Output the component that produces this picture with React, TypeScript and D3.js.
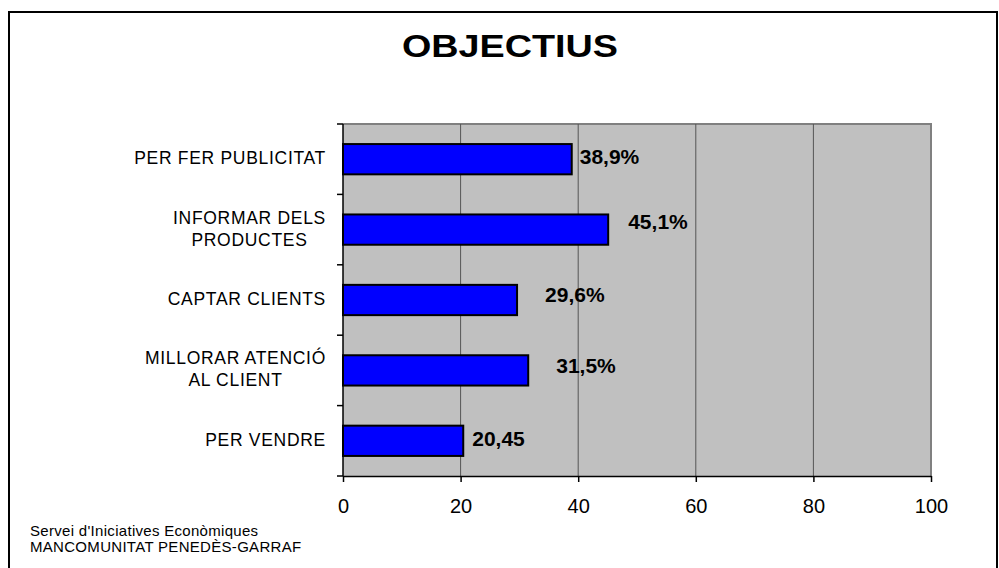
import React, { useRef, useEffect } from 'react';
import * as d3 from 'd3';

const categories = [
  'PER FER PUBLICITAT',
  'INFORMAR DELS\nPRODUCTES',
  'CAPTAR CLIENTS',
  'MILLORAR ATENCIÓ\nAL CLIENT',
  'PER VENDRE',
];
const values = [38.9, 45.1, 29.6, 31.5, 20.45];
const valueLabels = ['38,9%', '45,1%', '29,6%', '31,5%', '20,45'];
const xTicks = [0, 20, 40, 60, 80, 100];
const footerLines = ["Servei d'Iniciatives Econòmiques", 'MANCOMUNITAT PENEDÈS-GARRAF'];

// data labels were dragged around by hand in the original, so keep their nudges
const labelNudge = [
  { dx: 8, dy: 5 },
  { dx: 20, dy: -1 },
  { dx: 28, dy: 2 },
  { dx: 28, dy: 3 },
  { dx: 9, dy: 5 },
];

export default function App() {
  const ref = useRef<SVGSVGElement>(null);
  const width = 999;
  const height = 568;

  useEffect(() => {
    const svg = d3.select(ref.current);
    svg.selectAll('*').remove();

    const plot = { left: 343, right: 931, top: 124, bottom: 476 };
    const font = 'Arial, "Liberation Sans", sans-serif';

    const x = d3.scaleLinear().domain([0, 100]).range([plot.left, plot.right]);
    const y = d3.scaleBand().domain(categories).range([plot.top, plot.bottom]).padding(0);
    const barH = y.bandwidth() * 0.43;

    // outer frame
    svg.append('rect')
      .attr('x', 9).attr('y', 12)
      .attr('width', 988).attr('height', 620)
      .attr('fill', 'white')
      .attr('stroke', 'black').attr('stroke-width', 2);

    // title
    svg.append('text')
      .attr('x', 510).attr('y', 57)
      .attr('text-anchor', 'middle')
      .attr('font-family', font).attr('font-weight', 'bold').attr('font-size', 31)
      .attr('textLength', 216).attr('lengthAdjust', 'spacingAndGlyphs')
      .text('OBJECTIUS');

    // plot area
    svg.append('rect')
      .attr('x', plot.left).attr('y', plot.top)
      .attr('width', plot.right - plot.left).attr('height', plot.bottom - plot.top)
      .attr('fill', '#c0c0c0');

    svg.append('path')
      .attr('d', `M${plot.left},${plot.top}H${plot.right}V${plot.bottom}`)
      .attr('fill', 'none').attr('stroke', '#808080').attr('stroke-width', 2);

    svg.append('g')
      .selectAll('line')
      .data(xTicks.filter(t => t > 0 && t < 100))
      .enter()
      .append('line')
      .attr('x1', d => x(d)).attr('x2', d => x(d))
      .attr('y1', plot.top).attr('y2', plot.bottom)
      .attr('stroke', '#555').attr('stroke-width', 1);

    // bars
    svg.append('g')
      .selectAll('rect')
      .data(categories)
      .enter()
      .append('rect')
      .attr('x', x(0))
      .attr('y', d => y(d)! + (y.bandwidth() - barH) / 2)
      .attr('width', (_, i) => x(values[i]) - x(0))
      .attr('height', barH)
      .attr('fill', '#0000ff')
      .attr('stroke', 'black').attr('stroke-width', 2);

    // value labels
    svg.append('g')
      .selectAll('text')
      .data(categories)
      .enter()
      .append('text')
      .attr('x', (_, i) => x(values[i]) + labelNudge[i].dx)
      .attr('y', (d, i) => y(d)! + y.bandwidth() / 2 + labelNudge[i].dy)
      .attr('font-family', font).attr('font-weight', 'bold').attr('font-size', 21)
      .text((_, i) => valueLabels[i]);

    // y axis
    const yBounds = [...categories.map(c => y(c)!), plot.bottom];
    svg.append('line')
      .attr('x1', plot.left).attr('x2', plot.left)
      .attr('y1', plot.top).attr('y2', plot.bottom)
      .attr('stroke', 'black').attr('stroke-width', 1.5);
    svg.append('g')
      .selectAll('line')
      .data(yBounds)
      .enter()
      .append('line')
      .attr('x1', plot.left - 6).attr('x2', plot.left)
      .attr('y1', d => d).attr('y2', d => d)
      .attr('stroke', 'black').attr('stroke-width', 1.5);

    // category labels, multi-line ones centred within a right-aligned block
    const catG = svg.append('g')
      .attr('font-family', font).attr('font-size', 17.5)
      .attr('letter-spacing', 0.7).attr('fill', 'black');
    categories.forEach(c => {
      const lines = c.split('\n');
      const t = catG.append('text').attr('text-anchor', 'middle');
      const cy = y(c)! + y.bandwidth() / 2;
      lines.forEach((ln, j) => {
        t.append('tspan')
          .attr('y', cy + 5 + (j - (lines.length - 1) / 2) * 22)
          .text(ln);
      });
      const w = d3.max(t.selectAll<SVGTSpanElement, unknown>('tspan').nodes(), n => n.getComputedTextLength()) || 0;
      t.selectAll('tspan').attr('x', 326 - w / 2);
    });

    // x axis
    svg.append('g')
      .attr('transform', `translate(0,${plot.bottom})`)
      .call(d3.axisBottom(x).tickValues(xTicks).tickSize(6).tickSizeOuter(0).tickPadding(17))
      .call(g => g.select('.domain').attr('stroke', 'black').attr('stroke-width', 1.5))
      .call(g => g.selectAll('.tick line').attr('stroke', 'black').attr('stroke-width', 1.5))
      .call(g => g.selectAll('.tick text')
        .attr('font-family', font).attr('font-size', 20).attr('fill', 'black'));

    // footer
    const foot = svg.append('g')
      .attr('font-family', font).attr('font-size', 15)
      .attr('letter-spacing', 0.3).attr('fill', 'black');
    footerLines.forEach((ln, i) => {
      foot.append('text').attr('x', 30).attr('y', 536 + i * 16).text(ln);
    });
  }, []);

  return (
    <svg
      ref={ref}
      width={width}
      height={height}
      style={{ position: 'absolute', left: 0, top: 0, background: 'white' }}
    ></svg>
  );
}
